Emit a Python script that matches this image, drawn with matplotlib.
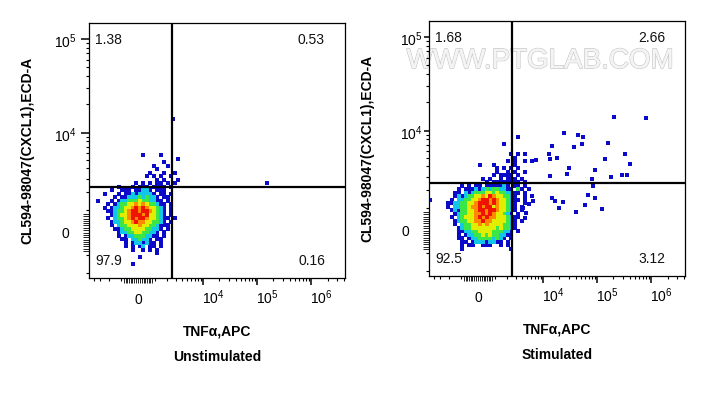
import matplotlib
matplotlib.use("Agg")
import matplotlib.pyplot as plt
import numpy as np
from matplotlib import transforms
from matplotlib.collections import LineCollection
import matplotlib.patheffects as pe

plt.rcParams['font.family'] = ['Liberation Sans', 'DejaVu Sans']
plt.rcParams['mathtext.fontset'] = 'custom'
plt.rcParams['mathtext.rm'] = 'Liberation Sans'
plt.rcParams['mathtext.it'] = 'Liberation Sans:italic'
plt.rcParams['mathtext.bf'] = 'Liberation Sans:bold'

# ---------------- data ----------------
panel_titles = ["Unstimulated", "Stimulated"]
x_label = "TNFα,APC"
y_label = "CL594-98047(CXCL1),ECD-A"
quadrant_pcts = [["1.38", "0.53", "97.9", "0.16"],   # UL, UR, LL, LR
                 ["1.68", "2.66", "92.5", "3.12"]]
gate_x = 2530.0            # TNFa gate (fluorescence units)
gate_y = [2400.0, 2480.0]  # CXCL1 gate per panel

x_tick_values = [0, 1e4, 1e5, 1e6]
x_tick_labels = ["0", r"$\mathregular{10^4}$", r"$\mathregular{10^5}$", r"$\mathregular{10^6}$"]
y_tick_values = [0, 1e4, 1e5]
y_tick_labels = ["0", r"$\mathregular{10^4}$", r"$\mathregular{10^5}$"]

# event density maps in display channels (cell = 3.5 channels);
# '.' empty, 1 low (blue) ... 6 highest (red)
left_density = [
    ".........................",
    "..............1....1.....",
    "........................1",
    "....................1....",
    ".................1...1...",
    "..................1......",
    "................1...1..1.",
    "...............1.1.1..1..",
    "..................1.1...1",
    "............1.1.1.11.1.1.",
    ".......1...1.111.1111.1..",
    ".....1..111.11221.111....",
    "...1...1.112122221.11.1..",
    "......1.11222323221.11...",
    ".1...1.1223334332211.1...",
    "....1.123344545433211.1..",
    "...1.1223445656544321.1..",
    "....11233456656654321.1..",
    ".....1234456665644321.1..",
    "....1.2334565665443211.1.",
    ".....1223445655443321.1..",
    ".....1.233444544332111...",
    "......11233444433221.1...",
    ".......122334433221.1....",
    ".......1.1223332211.1....",
    "........11.223221.11.....",
    ".........1.1221211.1.....",
    ".........1.1.12.11.1.....",
    "...........1..1.1.1......",
    "..................1......",
    ".............1...........",
    ".........................",
    "...........1.............",
]
left_density_origin = (3.5, 128.0)   # channel x of left edge, channel y of top edge

right_density = [
    ".....................1....",
    "..........................",
    ".................1........",
    "..........................",
    "..........................",
    "...................1.1.1..",
    "....................1.....",
    "..................1.1..1.1",
    "..........1...1.....1.....",
    "...............1.1.1.1....",
    "...............1..1.1..1..",
    "..............1.1111.1....",
    "...........1.1..1.111.1...",
    "............1.11111111.1..",
    ".....1.1.11.1111121.11.1..",
    "....1.11121232332211.31.1.",
    "...11.2123334434332211.1..",
    "...121233445465443321..1.1",
    "..1.223344566565443211.1..",
    ".11223344566656544321..1..",
    ".1.223345565664544321.1...",
    "..1213344566566544321.1...",
    "...12334455656544321.1....",
    "..1.234445656554443211....",
    "...123344556554444321.1...",
    "...1.2334454544443321.....",
    "....12334444444343321.....",
    "....1122334444333221.1....",
    "....1.12233434332211......",
    "....11.12233332321.1......",
    ".....11.122212211.1.......",
    ".....1.11..111..1.1.......",
    ".....1.............1......",
]
right_density_origin = (14.0, 141.0)
cell = 3.5

# sparse events (display channels)
left_sparse_x = [84, 178]
left_sparse_y = [159, 95]
right_sparse_x = [107, 120, 121, 128, 123, 135, 145, 149, 154, 153, 179, 185, 217, 140, 138, 121,
                  166, 176, 196, 201, 182, 193, 198, 163, 164, 159, 166, 173, 147, 156, 134, 126,
                  123, 130, 104, 100, 97, 96, 94, 1]
right_sparse_y = [116, 122, 117, 118, 130, 143, 129, 141, 139, 132, 133, 159, 158, 108, 102, 100,
                  106, 117, 122, 112, 99, 101, 101, 97, 90, 81, 78, 67, 64, 71, 74, 75,
                  78, 68, 75, 72, 63, 58, 68, 76]

level_colors = {'1': '#0A0AC8', '2': '#12C6EA', '3': '#3CE646', '4': '#E2EE00',
                '5': '#FF8A00', '6': '#EE1400'}

# ---------------- display scale (biexponential-like) ----------------
def xch(v):
    return 49.0 + 23.5 * np.arcsinh(np.asarray(v, float) / 1258.0)

def ych(v):
    return 45.5 + 40.8 * np.arcsinh(np.asarray(v, float) / 1739.0)

near_zero = [-800, -700, -600, -500, -400, -300, -200, -100, 0,
             100, 200, 300, 400, 500, 600, 700, 800]
x_decades = [1e4, 1e5, 1e6]
x_minor = [-4000, -3000, -2000, -1000] + [k * 1e3 for k in range(1, 10)] + \
          [k * 1e4 for k in range(2, 10)] + [k * 1e5 for k in range(2, 10)] + [2e6, 3e6, 4e6]
y_decades = [1e4, 1e5]
y_minor = [-2000, -1000] + [k * 1e3 for k in range(1, 10)] + [k * 1e4 for k in range(2, 10)]

fig = plt.figure(figsize=(7.06, 3.95), dpi=100)

# watermark
wm = fig.text(540 / 706, 1 - 68 / 395, "WWW.PTGLAB.COM", fontsize=20, color='#f4f4f4',
              ha='center', va='baseline', zorder=-1)
wm.set_path_effects([pe.withStroke(linewidth=1.1, foreground='#cacaca'), pe.Normal()])

rects = [[89 / 706, 117 / 395, 256 / 706, 255 / 395],
         [429 / 706, 119 / 395, 256 / 706, 255 / 395]]
densities = [(left_density, left_density_origin), (right_density, right_density_origin)]
sparse = [(left_sparse_x, left_sparse_y), (right_sparse_x, right_sparse_y)]
ylab_dx = [-12, -6]
ytick_len = [8, 5]
MS = 10


def px(n):
    return n / 100.0


def draw_ticks(ax, which, positions, length_px, width):
    if which == 'x':
        tr = transforms.blended_transform_factory(ax.transData, ax.transAxes)
        L = length_px / 255.0
        segs = [[(p, 0), (p, -L)] for p in positions if 0 <= p <= 256]
    else:
        tr = transforms.blended_transform_factory(ax.transAxes, ax.transData)
        L = length_px / 256.0
        segs = [[(0, p), (-L, p)] for p in positions if 0 <= p <= 255]
    lc = LineCollection(segs, colors='black', linewidths=width, transform=tr, clip_on=False)
    ax.add_collection(lc, autolim=False)


for i in range(2):
    ax = fig.add_axes(rects[i])
    ax.patch.set_alpha(0)
    ax.set_xlim(0, 256)
    ax.set_ylim(0, 255)
    for sp in ax.spines.values():
        sp.set_linewidth(0.9)
    ax.set_xticks([])
    ax.set_yticks([])

    grid, (gx0, gy0) = densities[i]
    for lvl in '123456':
        xs, ys = [], []
        for r, row in enumerate(grid):
            for c, chv in enumerate(row):
                if chv == lvl:
                    xs.append(gx0 + cell * (c + 0.5))
                    ys.append(gy0 - cell * (r + 0.5))
        ax.scatter(xs, ys, s=MS, marker='s', c=level_colors[lvl], linewidths=0, zorder=2)
    sx, sy = sparse[i]
    ax.scatter(sx, sy, s=MS, marker='s', c=level_colors['1'], linewidths=0, zorder=2)

    ax.axvline(xch(gate_x), color='black', lw=1.6, zorder=3)
    ax.axhline(ych(gate_y[i]), color='black', lw=1.6, zorder=3)

    # ticks (outward)
    draw_ticks(ax, 'x', xch(x_decades), 7, 1.1)
    draw_ticks(ax, 'x', xch(near_zero), 5, 0.6)
    draw_ticks(ax, 'x', xch(x_minor), 3, 0.8)
    draw_ticks(ax, 'y', ych(y_decades), ytick_len[i], 1.1)
    draw_ticks(ax, 'y', ych(near_zero), 6, 0.6)
    draw_ticks(ax, 'y', ych(y_minor), 3.5, 0.8)

    # tick labels
    for v, lab in zip(x_tick_values, x_tick_labels):
        if v == 0:
            tr = transforms.blended_transform_factory(ax.transData, ax.transAxes) + \
                transforms.ScaledTranslation(0, px(-26), fig.dpi_scale_trans)
            ax.text(xch(v), 0, lab, transform=tr, ha='center', va='baseline', fontsize=10)
        else:
            tr = transforms.blended_transform_factory(ax.transData, ax.transAxes) + \
                transforms.ScaledTranslation(px(-1), px(-26), fig.dpi_scale_trans)
            ax.text(xch(v), 0, lab, transform=tr, ha='left', va='baseline', fontsize=10)
    for v, lab in zip(y_tick_values, y_tick_labels):
        if v == 0:
            tr = transforms.blended_transform_factory(ax.transAxes, ax.transData) + \
                transforms.ScaledTranslation(px(-20), px(-5.5), fig.dpi_scale_trans)
        else:
            tr = transforms.blended_transform_factory(ax.transAxes, ax.transData) + \
                transforms.ScaledTranslation(px(ylab_dx[i]), px(-9.5), fig.dpi_scale_trans)
        ax.text(0, ych(v), lab, transform=tr, ha='right', va='baseline', fontsize=10)

    # quadrant percentages
    ul, ur, ll, lr = quadrant_pcts[i]

    def qtext(xf, yf, dx, dy, s, ha):
        tr = ax.transAxes + transforms.ScaledTranslation(px(dx), px(dy), fig.dpi_scale_trans)
        ax.text(xf, yf, s, transform=tr, ha=ha, va='baseline', fontsize=10, color='#111111')
    qtext(0, 1, 6, -21, ul, 'left')
    qtext(1, 1, -20, -21, ur, 'right')
    qtext(0, 0, 6, 13, ll, 'left')
    qtext(1, 0, -20, 13, lr, 'right')

    # axis labels and title
    tr = ax.transAxes + transforms.ScaledTranslation(0, px(-57), fig.dpi_scale_trans)
    ax.text(0.5, 0, x_label, transform=tr, ha='center', va='baseline', fontsize=10,
            fontweight='bold')
    tr = ax.transAxes + transforms.ScaledTranslation(0, px(-83), fig.dpi_scale_trans)
    ax.text(0.5, 0, panel_titles[i], transform=tr, ha='center', va='baseline', fontsize=10,
            fontweight='bold')
    tr = ax.transAxes + transforms.ScaledTranslation(px(-62), 0, fig.dpi_scale_trans)
    ax.text(0, 0.5, y_label, transform=tr, ha='center', va='center', rotation=90,
            fontsize=10, fontweight='bold')

fig.savefig("out.png", dpi=100)
